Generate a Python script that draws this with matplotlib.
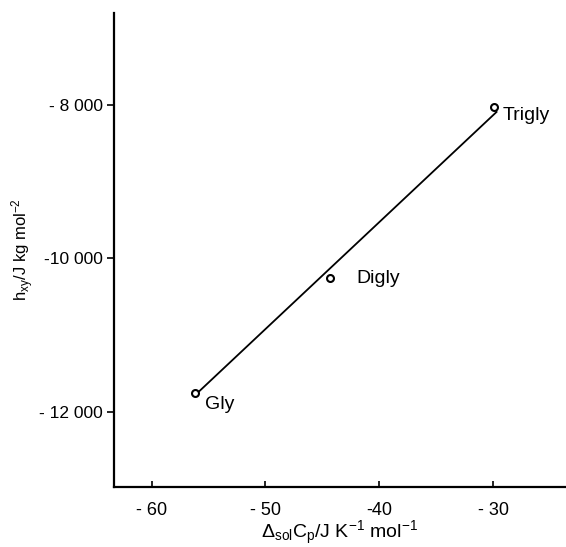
import numpy as np
import matplotlib
matplotlib.use('Agg')
import matplotlib.pyplot as plt

# data
names = ['Gly', 'Digly', 'Trigly']
dcp = [-56.2, -44.3, -29.9]          # Delta_sol C_p / J K^-1 mol^-1
hxy = [-11750, -10250, -8030]        # h_xy / J kg mol^-2

# drawn straight line (from Gly to Trigly)
line_x = [-55.8, -29.7]
line_y = [-11730, -8090]

xticks = [-60, -50, -40, -30]
xticklabels = ['- 60', '- 50', '-40', '- 30']
yticks = [-12000, -10000, -8000]
yticklabels = ['- 12 000', '-10 000', '- 8 000']

plt.rcParams['font.family'] = ['Liberation Sans', 'DejaVu Sans']
plt.rcParams['mathtext.fontset'] = 'custom'
plt.rcParams['mathtext.rm'] = 'Liberation Sans'
plt.rcParams['mathtext.it'] = 'Liberation Sans'

fig = plt.figure(figsize=(5.66, 5.47), dpi=100)
ax = fig.add_axes([0.2014, 0.1097, 0.7986, 0.8665])

ax.plot(line_x, line_y, color='black', lw=1.3)
ax.plot(dcp, hxy, 'o', ms=5, mfc='white', mec='black', mew=1.5)

# point labels
ax.text(-29.2, -8030, 'Trigly', fontsize=14, va='top', ha='left')
ax.text(-42.0, -10260, 'Digly', fontsize=14, va='center', ha='left')
ax.text(-55.3, -11800, 'Gly', fontsize=14, va='top', ha='left')

ax.set_xlim(-63.3, -23.6)
ax.set_ylim(-12980, -6800)

ax.set_xticks(xticks)
ax.set_xticklabels(xticklabels, fontsize=13)
ax.set_yticks(yticks)
ax.set_yticklabels(yticklabels, fontsize=12.5)
ax.tick_params(axis='x', direction='in', length=4, width=1.2, pad=11)
ax.tick_params(axis='y', direction='out', length=5, width=1.2, pad=3)

ax.spines['top'].set_visible(False)
ax.spines['right'].set_visible(False)
ax.spines['left'].set_linewidth(1.6)
ax.spines['bottom'].set_linewidth(1.6)

ax.set_xlabel(r'$\Delta_{\rm sol}C_{\rm p}$/J K$^{-1}$ mol$^{-1}$', fontsize=14, labelpad=0)
ax.set_ylabel(r'h$_{\rm xy}$/J kg mol$^{-2}$', fontsize=12, labelpad=2)

fig.savefig('out.png', dpi=100)
